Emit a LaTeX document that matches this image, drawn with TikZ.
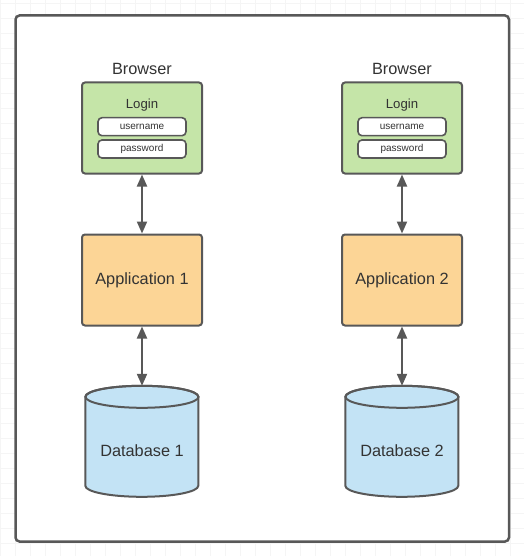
\documentclass[tikz,border=0pt]{standalone}
\usepackage{fontspec}
\setmainfont{Liberation Sans}
\usetikzlibrary{arrows.meta}
\usepackage{xcolor}
\definecolor{lineGray}{HTML}{585858}
\definecolor{textGray}{HTML}{333333}
\definecolor{loginGreen}{HTML}{C5E5A8}
\definecolor{appOrange}{HTML}{FCD596}
\definecolor{dbBlue}{HTML}{C3E3F5}

\begin{document}
\begin{tikzpicture}[
    x=1pt,
    y=-1pt,
    every node/.style={font=\fontsize{16.3}{19}\selectfont, text=textGray},
    tier/.style={
        rectangle,
        draw=lineGray,
        line width=2pt,
        rounded corners=3pt,
        minimum width=120,
        minimum height=91
    },
    field/.style={
        rectangle,
        draw=lineGray,
        fill=white,
        line width=1.6pt,
        rounded corners=4pt,
        minimum width=88,
        minimum height=18,
        inner sep=0pt,
        font=\fontsize{10}{12}\selectfont
    },
    dbspot/.style={
        rectangle,
        minimum width=113,
        minimum height=111,
        inner sep=0pt
    },
    link/.style={
        draw=lineGray,
        line width=2pt,
        {Triangle[length=12pt,width=10pt]}-{Triangle[length=12pt,width=10pt]}
    }
]

\useasboundingbox (0,0) rectangle (524,556);

% Background grid
\foreach \g in {3,18,...,556} {
    \draw[black!4, line width=0.8pt] (0,\g) -- (524,\g);
}
\foreach \g in {0,15,...,524} {
    \draw[black!4, line width=0.8pt] (\g,0) -- (\g,556);
}

% Frame
\draw[lineGray, line width=2.5pt, fill=white, rounded corners=4pt] (15.5,15.5) rectangle (509,541.5);

% Browser tier
\node at (142,69) {Browser};
\node at (402,69) {Browser};

\node[tier, fill=loginGreen] (b1) at (142,128) {};
\node[tier, fill=loginGreen] (b2) at (402,128) {};

\node[font=\fontsize{13.2}{15}\selectfont] at (142,105) {Login};
\node[field] (u1) at (142,126.7) {username};
\node[field] (p1) at (142,149) {password};

\node[font=\fontsize{13.2}{15}\selectfont] at (402,105) {Login};
\node[field] (u2) at (402,126.7) {username};
\node[field] (p2) at (402,149) {password};

% Application tier
\node[tier, fill=appOrange] (a1) at (142,280) {Application 1};
\node[tier, fill=appOrange] (a2) at (402,280) {Application 2};

% Database tier
\node[dbspot] (d1) at (142,441.5) {};
\node[dbspot] (d2) at (402,441.5) {};

\foreach \d in {d1, d2} {
    \draw[lineGray, line width=2pt, fill=dbBlue]
        (\d.north west) ++(0,11) -- ++(0,89)
        arc[start angle=180, end angle=360, x radius=56.5pt, y radius=11pt]
        -- ++(0,-89)
        arc[start angle=0, end angle=180, x radius=56.5pt, y radius=11pt]
        -- cycle;
    \draw[lineGray, line width=2pt] (\d.north) ++(0,11) ellipse[x radius=56.5pt, y radius=11pt];
}

\node at (142,451) {Database 1};
\node at (402,451) {Database 2};

% Connections
\foreach \top/\bot in {b1/a1, a1/d1, b2/a2, a2/d2} {
    \draw[link] (\top) -- (\bot);
}

\end{tikzpicture}
\end{document}
